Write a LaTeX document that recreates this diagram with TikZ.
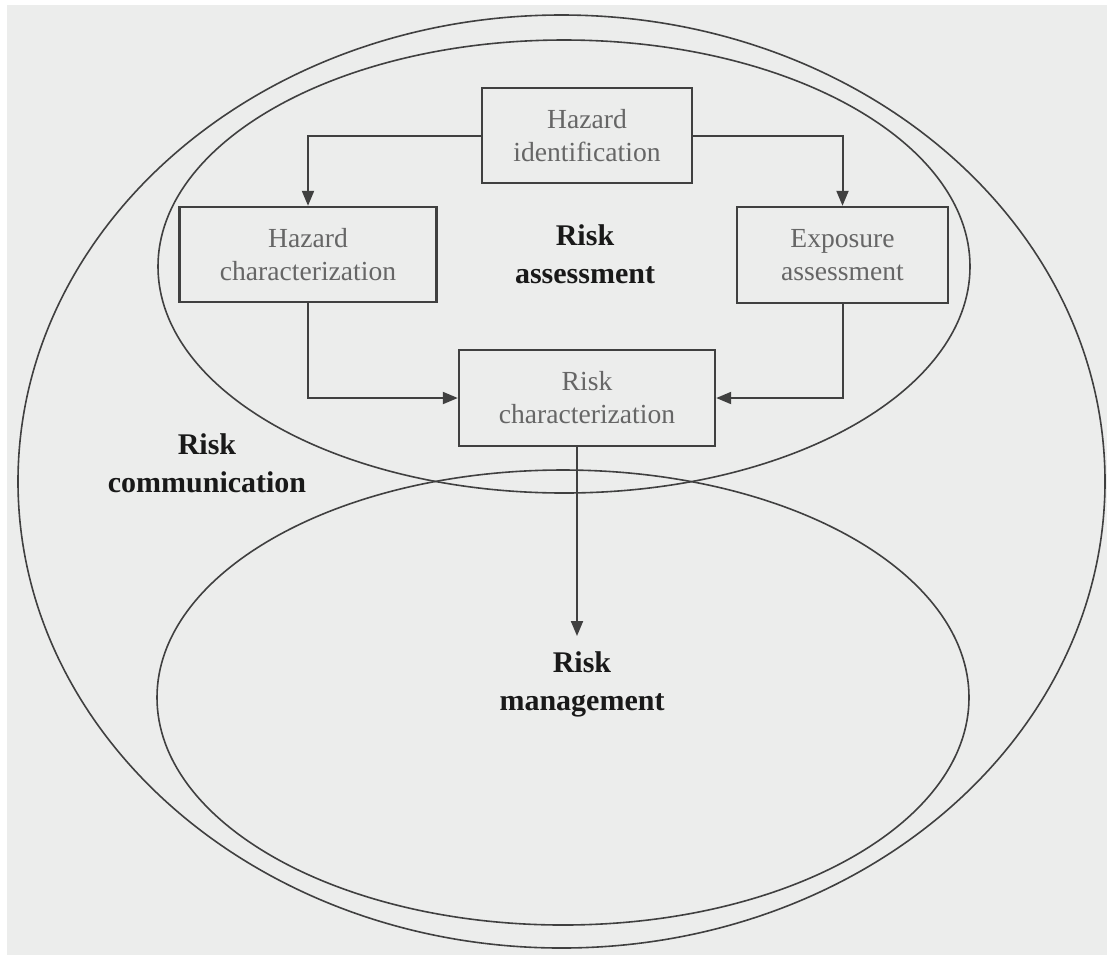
\documentclass[tikz,border=0pt]{standalone}
\usepackage{fontspec}
\setmainfont{Liberation Serif}
\usetikzlibrary{arrows.meta}
\definecolor{bggray}{HTML}{ECEDEC}
\colorlet{boxline}{black!75}
\colorlet{boxtext}{black!60}

\tikzset{
  stage/.style={draw=boxline, line width=1.2pt, text=boxtext, align=center,
    font=\fontsize{13.8}{16.5}\selectfont, inner sep=0pt},
  area/.style={align=center, font=\fontsize{15}{19}\selectfont\bfseries, text=black!90},
  flow/.style={draw=boxline, line width=1pt, -{Triangle[length=7.5pt, width=6pt]}},
  ring/.style={draw=black!75, line width=0.8pt},
}

\begin{document}
\begin{tikzpicture}[x=0.5pt, y=-0.5pt]

    \useasboundingbox (0, 0) rectangle (1107, 955);
    \fill[bggray] (7, 5) rectangle (1107, 955);

    % the three areas
    \draw[ring] (561.5, 481.5) ellipse [x radius=271.75pt, y radius=233.25pt];
    \draw[ring] (564, 266.5) ellipse [x radius=203pt, y radius=113.25pt];
    \draw[ring] (563, 697.5) ellipse [x radius=203pt, y radius=113.75pt];

    \node[area] (assess) at (585, 254) {Risk\\assessment};
    \node[area] (comm) at (207, 463) {Risk\\communication};
    \node[area] (manage) at (582, 684) {Risk\\management};

    % steps of the assessment
    \node[stage, minimum width=105pt, minimum height=47.5pt] (hazid) at (587, 135.5) {Hazard\\identification};
    \node[stage, minimum width=128.5pt, minimum height=47.5pt] (hazchar) at (308, 254.5) {Hazard\\characterization};
    \node[stage, minimum width=105.5pt, minimum height=48pt] (expo) at (842.5, 255) {Exposure\\assessment};
    \node[stage, minimum width=128pt, minimum height=48pt] (riskchar) at (587, 398) {Risk\\characterization};

    \coordinate (mgmt) at (577, 636);

    \draw[flow] (hazid.west) -| (hazchar.north);
    \draw[flow] (hazid.east) -| (expo.north);
    \draw[flow] (hazchar.south) |- (riskchar.west);
    \draw[flow] (expo.south) |- (riskchar.east);
    \draw[flow] (riskchar.south -| mgmt) -- (mgmt);

\end{tikzpicture}
\end{document}
